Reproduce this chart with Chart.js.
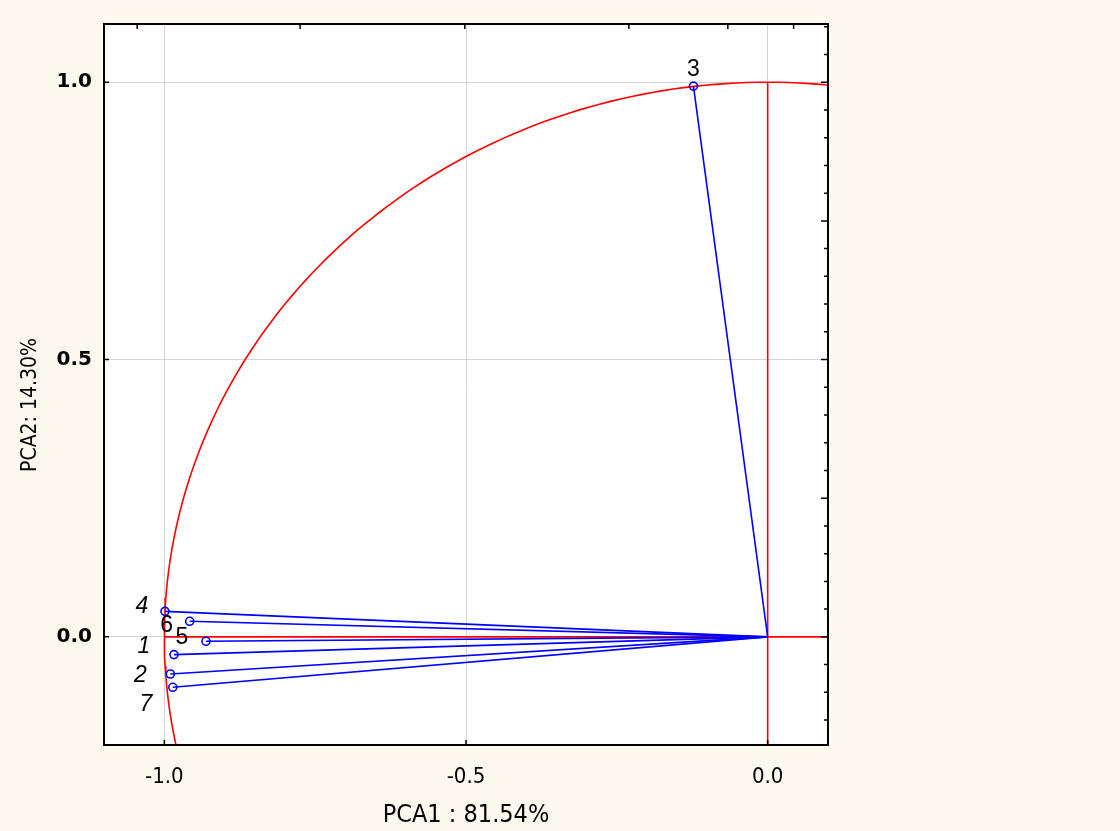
<!DOCTYPE html>
<html>
<head>
<meta charset="utf-8">
<script src="https://cdn.jsdelivr.net/npm/chart.js@4.4.1/dist/chart.umd.min.js"></script>
<style>
  html, body { margin: 0; padding: 0; background: #fdf9ee; }
  #wrap { width: 1120px; height: 831px; }
</style>
</head>
<body>
<div id="wrap"><canvas id="myChart" width="1120" height="831"></canvas></div>
<script>
// variable loadings on the first two components
const varNames = ["1", "2", "3", "4", "5", "6", "7"];
const pca1 = [-0.984, -0.990, -0.123, -0.999, -0.931, -0.958, -0.986];
const pca2 = [-0.032, -0.067, 0.993, 0.046, -0.008, 0.028, -0.091];

const xTicks = [-1.0, -0.5, 0.0];
const yTicks = [0.0, 0.5, 1.0];
const topTicks = [-1.045, -0.775, -0.502, -0.23, -0.066, 0.043];
const xTitle = "PCA1 : 81.54%";
const yTitle = "PCA2: 14.30%";

// where each number sits relative to its point (px), and its style
const labelOffsets = [[-30, -8], [-30, 2], [0, -16], [-23, -5], [-24, -4], [-23, 4], [-27, 17]];
const labelItalic = [true, true, false, true, false, false, true];

const BLUE = "#0000ff";
const RED = "#ff0000";
const NARROW = "'Liberation Sans Narrow', 'DejaVu Sans Condensed', sans-serif";

// unit circle of correlations
const circle = [];
for (let a = 78; a <= 202; a += 1) {
  circle.push({ x: Math.cos(a * Math.PI / 180), y: Math.sin(a * Math.PI / 180) });
}

const vectorSets = varNames.map((n, i) => ({
  label: n,
  data: [{ x: 0, y: 0 }, { x: pca1[i], y: pca2[i] }],
  showLine: true,
  borderColor: BLUE,
  borderWidth: 1.6,
  pointRadius: (c) => (c.dataIndex === 1 ? 4 : 0),
  pointBackgroundColor: "rgba(0,0,0,0)",
  pointBorderColor: BLUE,
  pointBorderWidth: 1.6,
}));

const redSets = [
  { label: "circle", data: circle, showLine: true, borderColor: RED, borderWidth: 1.6, pointRadius: 0 },
  { label: "h", data: [{ x: -1, y: 0 }, { x: 0.1, y: 0 }], showLine: true, borderColor: RED, borderWidth: 1.6, pointRadius: 0 },
  { label: "v", data: [{ x: 0, y: 1 }, { x: 0, y: -0.2 }], showLine: true, borderColor: RED, borderWidth: 1.6, pointRadius: 0 },
];

const areaPlugin = {
  id: "area",
  beforeDraw(chart) {
    const { ctx, chartArea: a } = chart;
    ctx.save();
    ctx.fillStyle = "#ffffff";
    ctx.fillRect(a.left, a.top, a.right - a.left, a.bottom - a.top);
    ctx.restore();
  },
  afterDraw(chart) {
    const { ctx, chartArea: a } = chart;
    const xs = chart.scales.x, ys = chart.scales.y;
    ctx.save();
    ctx.strokeStyle = "#000";
    ctx.lineWidth = 1.5;
    ctx.beginPath();
    // left major ticks
    yTicks.forEach(v => { const p = ys.getPixelForValue(v); ctx.moveTo(a.left, p); ctx.lineTo(a.left + 5, p); });
    // bottom ticks
    xTicks.forEach(v => { const p = xs.getPixelForValue(v); ctx.moveTo(p, a.bottom); ctx.lineTo(p, a.bottom - 5); });
    // top ticks
    topTicks.forEach(v => { const p = xs.getPixelForValue(v); ctx.moveTo(p, a.top); ctx.lineTo(p, a.top + 5); });
    // right minor ticks
    for (let k = -3; k <= 22; k++) {
      const p = ys.getPixelForValue(k * 0.05);
      ctx.moveTo(a.right, p); ctx.lineTo(a.right - (k % 5 === 0 ? 7 : 4), p);
    }
    ctx.stroke();
    ctx.lineWidth = 2;
    ctx.strokeRect(a.left, a.top, a.right - a.left, a.bottom - a.top);

    // y axis title
    ctx.fillStyle = "#000";
    ctx.font = "21px " + NARROW;
    ctx.textAlign = "center";
    ctx.textBaseline = "middle";
    ctx.translate(31, 405);
    ctx.rotate(-Math.PI / 2);
    ctx.fillText(yTitle, 0, 0);
    ctx.restore();
  },
  afterDatasetsDraw(chart) {
    const { ctx } = chart;
    const xs = chart.scales.x, ys = chart.scales.y;
    ctx.save();
    ctx.fillStyle = "#000";
    ctx.textAlign = "center";
    ctx.textBaseline = "middle";
    varNames.forEach((n, i) => {
      ctx.font = (labelItalic[i] ? "italic " : "") + "23px 'Liberation Sans', Arial, sans-serif";
      const px = xs.getPixelForValue(pca1[i]) + labelOffsets[i][0];
      const py = ys.getPixelForValue(pca2[i]) + labelOffsets[i][1];
      ctx.fillText(n, px, py);
    });
    ctx.restore();
  },
};

const ctx = document.getElementById("myChart").getContext("2d");
const myChart = new Chart(ctx, {
  type: "scatter",
  data: { datasets: [...vectorSets, ...redSets] },
  options: {
    responsive: false,
    animation: false,
    devicePixelRatio: 1,
    layout: { padding: { left: 0, right: 292, top: 24, bottom: 0 } },
    plugins: { legend: { display: false }, tooltip: { enabled: false } },
    scales: {
      x: {
        type: "linear",
        min: -1.1,
        max: 0.1,
        afterBuildTicks: (s) => { s.ticks = xTicks.map(v => ({ value: v })); },
        afterFit: (s) => { s.height = 86; },
        border: { display: false },
        grid: { color: "#d4d4d4", lineWidth: 1, drawTicks: false },
        ticks: {
          color: "#000",
          padding: 19,
          maxRotation: 0,
          font: { family: NARROW, size: 22 },
          callback: (v) => Number(v).toFixed(1),
        },
        title: {
          display: true,
          text: xTitle,
          color: "#000",
          padding: { top: 0, bottom: 1 },
          font: { family: NARROW, size: 25 },
        },
      },
      y: {
        type: "linear",
        min: -0.195,
        max: 1.105,
        afterBuildTicks: (s) => { s.ticks = yTicks.map(v => ({ value: v })); },
        afterFit: (s) => { s.width = 104; },
        border: { display: false },
        grid: { color: "#d4d4d4", lineWidth: 1, drawTicks: false },
        ticks: {
          color: "#000",
          padding: 12,
          font: { family: "'DejaVu Sans', sans-serif", size: 20, weight: "bold" },
          callback: (v) => Number(v).toFixed(1),
        },
      },
    },
  },
  plugins: [areaPlugin],
});
</script>
</body>
</html>
